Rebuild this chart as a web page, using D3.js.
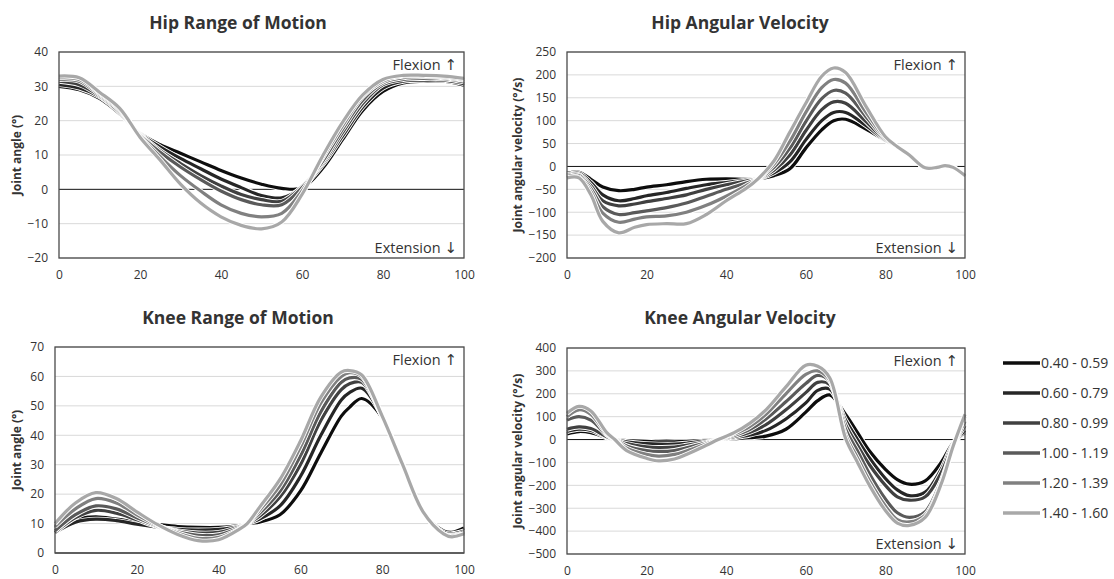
<!DOCTYPE html>
<html>
<head>
<meta charset="utf-8">
<script src="https://cdn.jsdelivr.net/npm/d3@7"></script>
<style>
  body { margin: 0; background: #fff; }
  svg text { font-family: "Open Sans", "Noto Sans", sans-serif; fill: #333; }
</style>
</head>
<body>
<svg id="chart" width="1114" height="579"></svg>
<script>
'use strict';

// speed bands (legend)
var speedBands = ['0.40 - 0.59', '0.60 - 0.79', '0.80 - 0.99', '1.00 - 1.19', '1.20 - 1.39', '1.40 - 1.60'];
var bandColors = ['#0d0d0d', '#262626', '#404040', '#5a5a5a', '#808080', '#a8a8a8'];
var xTicks = [0, 20, 40, 60, 80, 100];

// Hip range of motion (deg)
var hipRomX = [0, 5, 10, 15, 20, 25, 30, 35, 40, 45, 50, 55, 60, 65, 70, 75, 80, 85, 90, 95, 100];
var hipRom = [
  [30, 29, 26.5, 22, 16.3, 13, 10.5, 8, 5.5, 3.3, 1.5, 0.3, 0.4, 6, 14.5, 23, 28.5, 31, 31.5, 31.5, 30.3],
  [30.5, 29.5, 27, 22.3, 16.2, 12.3, 9, 6, 3, 0.5, -1.8, -2.5, 0.5, 7, 15.5, 24, 29.5, 31.5, 31.8, 31.8, 30.8],
  [31.5, 30.5, 27.3, 22.6, 16, 11.3, 7.5, 4, 1, -1.5, -3, -3.5, 0.8, 7.5, 16.5, 25, 30.5, 32, 32.3, 32.2, 31.3],
  [32, 31.5, 27.6, 23, 15.8, 10.8, 6.5, 2.8, -0.5, -3, -4.5, -4.5, 0.5, 8, 17.5, 26, 31, 32.5, 32.8, 32.5, 31.8],
  [32.5, 32, 28, 23.3, 15.5, 9.5, 4, -0.5, -4.5, -7, -8, -7, -0.5, 9, 18.5, 27, 31.5, 33, 33, 32.8, 32],
  [33, 32.5, 28.3, 23.6, 15.2, 8.5, 1.5, -4, -8, -10.5, -11.5, -9.5, -1.5, 9.5, 19.5, 27.5, 32, 33.2, 33.2, 33, 32.3]
];

// Hip angular velocity (deg/s)
var hipVelX = [0, 3, 6, 9, 13, 17, 20, 25, 30, 35, 40, 45, 48, 52, 56, 60, 64, 67, 70, 75, 80, 83, 86, 90, 93, 95, 97, 100];
var hipVel = [
  [-15, -13, -28, -45, -53, -50, -45, -40, -33, -28, -27, -28, -27, -20, -5, 40, 80, 100, 103, 82, 57, 43, 25, -3, -2, 2, -2, -20],
  [-18, -15, -35, -62, -75, -70, -64, -57, -48, -40, -35, -30, -27, -14, 10, 58, 100, 118, 118, 90, 57, 43, 25, -3, -2, 2, -2, -20],
  [-20, -18, -42, -75, -86, -82, -77, -70, -62, -50, -40, -32, -27, -8, 25, 78, 124, 141, 138, 99, 58, 43, 25, -3, -2, 2, -2, -20],
  [-22, -20, -48, -88, -105, -101, -97, -90, -80, -65, -50, -36, -27, -2, 40, 98, 148, 166, 160, 110, 60, 43, 25, -3, -2, 2, -2, -20],
  [-25, -23, -55, -102, -122, -115, -110, -108, -100, -85, -65, -42, -27, 5, 55, 118, 172, 190, 182, 120, 62, 43, 25, -3, -2, 2, -2, -20],
  [-25, -25, -62, -120, -145, -133, -127, -125, -125, -105, -75, -48, -27, 12, 75, 138, 197, 215, 205, 133, 65, 43, 25, -3, -2, 2, -2, -20]
];

// Knee range of motion (deg)
var kneeRomX = [0, 5, 10, 15, 20, 25, 30, 35, 40, 45, 47, 50, 55, 60, 65, 70, 72, 75, 80, 85, 90, 95, 97, 100];
var kneeRom = [
  [8.5, 11.5, 12.3, 11.5, 10.5, 9.7, 9, 8.7, 8.7, 9.3, 10, 10.5, 13, 21, 34, 46.5, 49.5, 52.5, 46, 30, 14, 7.5, 7, 8.5],
  [7, 10.5, 11.5, 11, 9.8, 8.8, 8, 7.8, 8, 9, 10, 11.5, 16, 26, 40, 52, 54.5, 56, 46.5, 30, 14, 7, 6.5, 7.5],
  [7, 12, 14.5, 13.5, 11.3, 9, 7.5, 6.8, 7, 8.8, 10, 12.5, 19, 30, 45, 55.5, 57.5, 58, 46.5, 30, 14, 6.5, 6, 7],
  [7.5, 13, 16, 15, 12, 9.2, 7.2, 6, 6.2, 8.5, 10, 13.5, 21, 33, 48, 58, 59.5, 59, 46.5, 30, 14, 6.5, 6, 6.5],
  [9, 15, 18.5, 17, 13, 9.5, 6.8, 5, 5.3, 8.2, 10, 14.5, 23, 36, 51, 60, 61.3, 60, 46.5, 30, 14, 6.5, 5.8, 6.5],
  [10, 17, 20.5, 18.5, 14, 9.7, 6.3, 4.2, 4.5, 8, 10, 15.5, 25, 38, 53, 61.5, 62, 60.5, 46.5, 30, 14, 6.5, 5.5, 6.5]
];

// Knee angular velocity (deg/s)
var kneeVelX = [0, 3, 6, 10, 12, 15, 20, 23, 27, 30, 35, 38, 42, 46, 50, 55, 60, 63, 66, 70, 73, 76, 80, 83, 86, 90, 94, 97, 100];
var kneeVel = [
  [25, 35, 30, 8, 0, -5, -8, -10, -10, -8, -3, 0, 4, 8, 15, 45, 120, 170, 195, 110, 30, -50, -130, -175, -195, -180, -100, -15, 30],
  [35, 45, 40, 10, 0, -10, -18, -20, -20, -16, -6, 0, 8, 20, 40, 90, 160, 215, 220, 85, 0, -80, -170, -220, -245, -230, -130, -20, 40],
  [45, 55, 48, 12, 0, -18, -32, -35, -33, -25, -10, 0, 12, 32, 65, 130, 205, 250, 240, 65, -25, -110, -200, -250, -265, -250, -145, -25, 60],
  [85, 100, 85, 20, 0, -28, -48, -52, -48, -36, -14, 0, 18, 45, 90, 165, 245, 280, 255, 45, -50, -150, -260, -320, -340, -315, -180, -30, 80],
  [100, 130, 110, 25, 0, -38, -65, -72, -65, -50, -19, 0, 24, 58, 110, 200, 285, 300, 260, 20, -80, -180, -290, -350, -360, -330, -190, -30, 100],
  [115, 145, 125, 30, 0, -48, -82, -93, -85, -65, -25, 0, 30, 72, 130, 230, 325, 320, 270, 5, -100, -200, -310, -365, -375, -340, -195, -30, 110]
];

var svg = d3.select('#chart');

var panels = [
  { title: 'Hip Range of Motion', ylabel: 'Joint angle (°)', xs: hipRomX, series: hipRom,
    yDomain: [-20, 40], yStep: 10, box: [59, 52, 464, 258], titleX: 238, titleY: 29, ylabX: 17, ext: true },
  { title: 'Hip Angular Velocity', ylabel: 'Joint angular velocity (°/s)', xs: hipVelX, series: hipVel,
    yDomain: [-200, 250], yStep: 50, box: [567, 52, 965, 258], titleX: 740, titleY: 29, ylabX: 518, ext: true },
  { title: 'Knee Range of Motion', ylabel: 'Joint angle (°)', xs: kneeRomX, series: kneeRom,
    yDomain: [0, 70], yStep: 10, box: [55, 347, 464, 553], titleX: 238, titleY: 324, ylabX: 17, ext: false },
  { title: 'Knee Angular Velocity', ylabel: 'Joint angular velocity (°/s)', xs: kneeVelX, series: kneeVel,
    yDomain: [-500, 400], yStep: 100, box: [567, 348, 965, 554], titleX: 740, titleY: 324, ylabX: 518, ext: true }
];

function arrowLabel(sel, word, arrow) {
    sel.append('tspan').text(word + ' ');
    sel.append('tspan').style('font-family', '"DejaVu Sans", sans-serif').style('font-size', '15px').text(arrow);
}

panels.forEach(function(p) {
    var x = d3.scaleLinear().domain([0, 100]).range([p.box[0], p.box[2]]);
    var y = d3.scaleLinear().domain(p.yDomain).range([p.box[3], p.box[1]]);
    var yTicks = d3.range(p.yDomain[0], p.yDomain[1] + 0.001, p.yStep);
    var g = svg.append('g');

    // gridlines
    g.selectAll('.grid').data(yTicks).enter().append('line')
        .attr('x1', p.box[0]).attr('x2', p.box[2])
        .attr('y1', function(d) { return y(d); }).attr('y2', function(d) { return y(d); })
        .attr('stroke', function(d) { return d === 0 ? '#111' : '#d9d9d9'; })
        .attr('stroke-width', 1);

    // axes (ticks hidden, labels only)
    var yAxis = g.append('g').attr('transform', 'translate(' + p.box[0] + ',0)')
        .call(d3.axisLeft(y).tickValues(yTicks).tickSize(0).tickPadding(11));
    var xAxis = g.append('g').attr('transform', 'translate(0,' + p.box[3] + ')')
        .call(d3.axisBottom(x).tickValues(xTicks).tickSize(0).tickPadding(12));
    [yAxis, xAxis].forEach(function(a) {
        a.select('.domain').remove();
        a.selectAll('text').style('font-size', '12px').attr('fill', '#333')
            .style('font-family', '"Open Sans", sans-serif');
    });

    // series, each with a thin white halo
    var line = d3.line()
        .x(function(d, i) { return x(p.xs[i]); })
        .y(function(d) { return y(d); })
        .curve(d3.curveCatmullRom.alpha(0.5));
    p.series.forEach(function(s, i) {
        g.append('path').attr('d', line(s)).attr('fill', 'none')
            .attr('stroke', '#fff').attr('stroke-width', 5).attr('stroke-linejoin', 'round');
        g.append('path').attr('d', line(s)).attr('fill', 'none')
            .attr('stroke', bandColors[i]).attr('stroke-width', 3.2).attr('stroke-linejoin', 'round');
    });

    // plot border
    g.append('rect')
        .attr('x', p.box[0]).attr('y', p.box[1])
        .attr('width', p.box[2] - p.box[0]).attr('height', p.box[3] - p.box[1])
        .attr('fill', 'none').attr('stroke', '#4a4a4a').attr('stroke-width', 1.3);

    // titles
    g.append('text').attr('x', p.titleX).attr('y', p.titleY)
        .attr('text-anchor', 'middle').style('font-size', '17.5px').style('font-weight', 'bold')
        .attr('fill', '#222').text(p.title);
    g.append('text')
        .attr('transform', 'translate(' + p.ylabX + ',' + ((p.box[1] + p.box[3]) / 2) + ') rotate(-90)')
        .attr('text-anchor', 'middle').attr('dy', '0.35em')
        .style('font-size', '12px').style('font-weight', 'bold').attr('fill', '#222').text(p.ylabel);

    g.append('text').attr('x', p.box[2] - 7).attr('y', p.box[1] + 18)
        .attr('text-anchor', 'end').style('font-size', '14.5px')
        .call(arrowLabel, 'Flexion', '\u2191');
    if (p.ext) {
        g.append('text').attr('x', p.box[2] - 7).attr('y', p.box[3] - 5)
            .attr('text-anchor', 'end').style('font-size', '14.5px')
            .call(arrowLabel, 'Extension', '\u2193');
    }
});

// legend
var legend = svg.append('g').attr('transform', 'translate(1003,363)');
var items = legend.selectAll('g').data(speedBands).enter().append('g')
    .attr('transform', function(d, i) { return 'translate(0,' + i * 30 + ')'; });
items.append('line').attr('x1', 0).attr('x2', 37).attr('y1', 0).attr('y2', 0)
    .attr('stroke', function(d, i) { return bandColors[i]; }).attr('stroke-width', 3.5);
items.append('text').attr('x', 38).attr('y', 0).attr('dy', '0.35em')
    .style('font-size', '14px').text(function(d) { return d; });
</script>
</body>
</html>
